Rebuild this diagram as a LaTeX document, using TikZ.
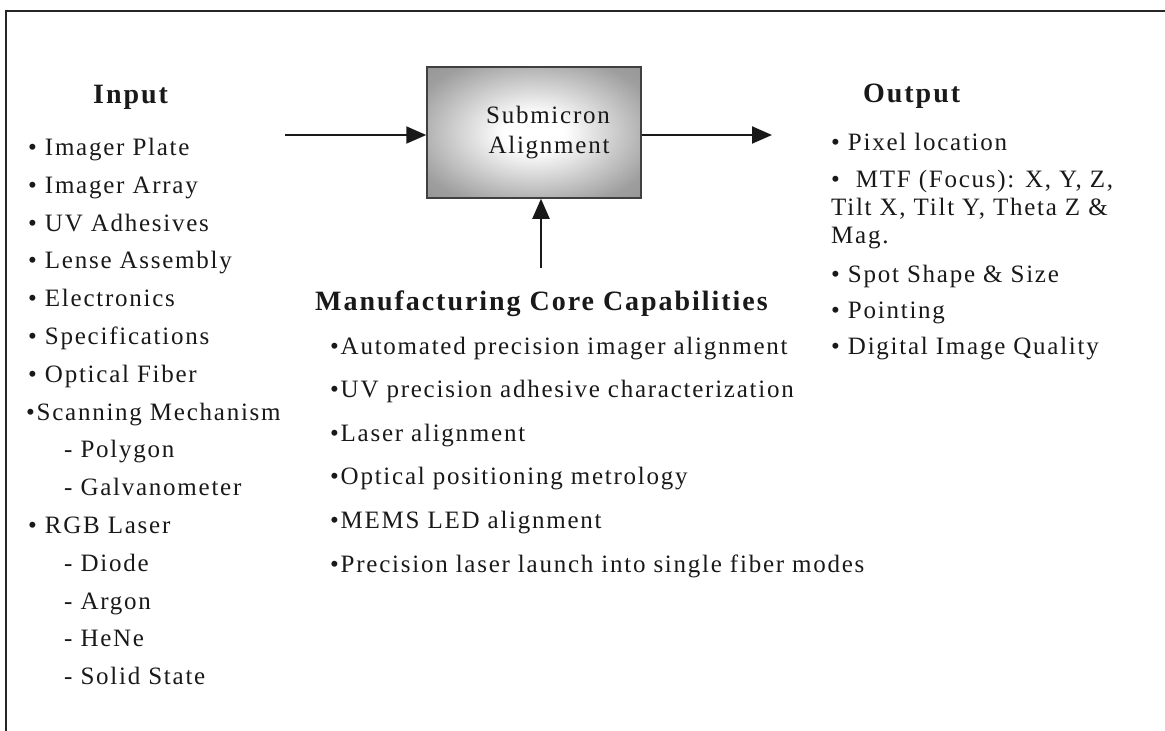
\documentclass[tikz,border=0pt]{standalone}
\usepackage{fontspec}
\setmainfont{Liberation Serif}[LetterSpace=7]
\usetikzlibrary{arrows.meta}
\pgfdeclareradialshading{glow}{\pgfpoint{0bp}{0bp}}{color(0bp)=(white); color(7bp)=(white); color(30bp)=(black!38); color(50bp)=(black!48)}
\begin{document}
\begin{tikzpicture}[x=1pt,y=-1pt,
  txt/.style={inner sep=0pt, anchor=base west, font=\fontsize{25}{30}\selectfont, text=black!90},
  ttl/.style={inner sep=0pt, anchor=base west, font=\fontsize{28}{32}\selectfont\bfseries, text=black!90},
  ctr/.style={inner sep=0pt, anchor=base, font=\fontsize{25}{30}\selectfont, text=black!90},
  arr/.style={line width=2pt, black!90, -{Triangle[length=20pt,width=17pt]}},
  procbox/.style={draw=black!75, line width=1.5pt, shading=glow, minimum width=214pt, minimum height=131pt, inner sep=0pt}]
\useasboundingbox (0,0) rectangle (1165,731);
\clip (0,0) rectangle (1165,731);
\fill[white] (0,0) rectangle (1165,731);
% outer frame (cut at right and bottom)
\draw[line width=2.5pt, black!85] (6,745) |- (1180,11);

% central box
\node[procbox] (sub) at (534,132.5) {};
\node[ctr] (sub1) at (548,123) {Submicron};
\node[ctr] (sub2) at (549,153) {Alignment};

% connectors
\coordinate (inbeg) at (285,135);
\coordinate (outend) at (772,135);
\coordinate (capbeg) at (541,268);
\draw[arr] (inbeg) -- (inbeg -| sub.west);
\draw[arr] (sub.east |- outend) -- (outend);
\draw[arr] (capbeg) -- (capbeg |- sub.south);

% Input column
\node[ttl] (intitle) at (93,103) {Input};
\node[txt] (i1) at (28,155) {• Imager Plate};
\node[txt] (i2) at (28,193) {• Imager Array};
\node[txt] (i3) at (28,231) {• UV Adhesives};
\node[txt] (i4) at (28,268) {• Lense Assembly};
\node[txt] (i5) at (28,306) {• Electronics};
\node[txt] (i6) at (28,344) {• Specifications};
\node[txt] (i7) at (28,382) {• Optical Fiber};
\node[txt] (i8) at (26,420) {•Scanning Mechanism};
\node[txt] (i9) at (64,457) {- Polygon};
\node[txt] (i10) at (64,495) {- Galvanometer};
\node[txt] (i11) at (28,533) {• RGB Laser};
\node[txt] (i12) at (64,571) {- Diode};
\node[txt] (i13) at (64,609) {- Argon};
\node[txt] (i14) at (64,646) {- HeNe};
\node[txt] (i15) at (64,684) {- Solid State};

% Output column
\node[ttl] (outtitle) at (863,102) {Output};
\node[txt] (o1) at (831,150) {• Pixel location};
\node[txt] (o2) at (831,187) {•\ \ MTF (Focus): X, Y, Z,};
\node[txt] (o2b) at (831,215) {Tilt X, Tilt Y, Theta Z \&};
\node[txt] (o2c) at (831,243) {Mag.};
\node[txt] (o3) at (831,282) {• Spot Shape \& Size};
\node[txt] (o4) at (831,318) {• Pointing};
\node[txt] (o5) at (831,354) {• Digital Image Quality};

% Capabilities
\node[ttl] (captitle) at (315,310) {Manufacturing Core Capabilities};
\node[txt] (c1) at (330,354) {•Automated precision imager alignment};
\node[txt] (c2) at (330,397.5) {•UV precision adhesive characterization};
\node[txt] (c3) at (330,441) {•Laser alignment};
\node[txt] (c4) at (330,484.5) {•Optical positioning metrology};
\node[txt] (c5) at (330,528) {•MEMS LED alignment};
\node[txt] (c6) at (330,572) {•Precision laser launch into single fiber modes};
\end{tikzpicture}
\end{document}
